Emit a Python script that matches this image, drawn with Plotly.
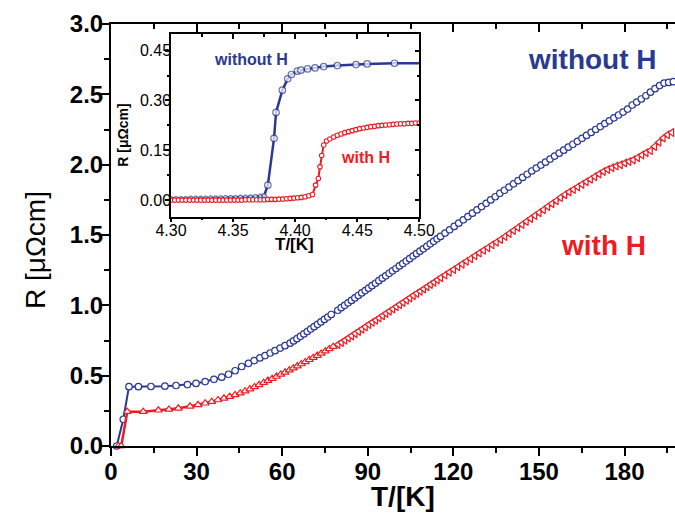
import plotly.graph_objects as go

# ---------------- data ----------------
# main panel, without H (blue circles)
T_blue = [2.0, 4.3, 6.3, 9.6, 14.0, 18.9, 22.8, 26.8, 29.8, 33.0, 36.1, 38.8, 41.2, 43.5,
          45.8, 48.2, 50.2, 52.2, 54.0, 55.8, 57.5, 59.3, 61.0, 62.8, 64.0, 65.2, 66.4, 67.6,
          68.8, 70.0, 71.2, 72.4, 73.6, 74.8, 76.0, 77.2, 79.5, 80.7, 81.9, 83.1, 84.3, 85.5,
          86.7, 87.9, 89.1, 90.3, 91.5, 92.7, 93.9, 95.1, 96.3, 97.5, 98.7, 99.9, 101.1, 102.3,
          103.5, 104.7, 105.9, 107.1, 108.3, 109.5, 110.7, 111.9, 113.1, 114.3, 115.5, 117.1,
          118.7, 120.3, 121.9, 123.5, 125.1, 126.7, 128.3, 129.9, 131.5, 133.1, 134.7, 136.3,
          137.9, 139.5, 141.1, 142.7, 144.3, 145.9, 147.5, 149.1, 150.7, 152.3, 153.9, 155.5,
          157.1, 158.7, 160.3, 161.9, 163.5, 165.1, 166.7, 168.3, 169.9, 171.5, 173.1, 174.7,
          176.3, 177.9, 179.5, 181.1, 182.7, 184.3, 185.9, 187.5, 189.1, 190.7, 192.3, 193.9,
          195.5, 197.1]
R_blue = [0.0, 0.19, 0.422, 0.422, 0.423, 0.425, 0.43, 0.437, 0.445, 0.458, 0.474, 0.489, 0.51, 0.535,
          0.565, 0.588, 0.607, 0.626, 0.643, 0.661, 0.678, 0.696, 0.713, 0.731, 0.747, 0.763, 0.78, 0.797,
          0.814, 0.831, 0.848, 0.865, 0.882, 0.9, 0.917, 0.935, 0.965, 0.983, 1.0, 1.018, 1.035, 1.053,
          1.07, 1.088, 1.105, 1.122, 1.14, 1.157, 1.175, 1.193, 1.21, 1.228, 1.245, 1.262, 1.28, 1.297,
          1.315, 1.332, 1.35, 1.367, 1.385, 1.402, 1.42, 1.437, 1.455, 1.473, 1.49, 1.514,
          1.537, 1.561, 1.584, 1.608, 1.631, 1.655, 1.678, 1.702, 1.725, 1.749, 1.772, 1.796,
          1.818, 1.841, 1.864, 1.886, 1.909, 1.932, 1.955, 1.976, 1.997, 2.018, 2.04, 2.061,
          2.082, 2.103, 2.124, 2.145, 2.166, 2.187, 2.208, 2.229, 2.25, 2.271, 2.292, 2.312,
          2.333, 2.353, 2.374, 2.395, 2.424, 2.445, 2.467, 2.49, 2.515, 2.54, 2.562, 2.58,
          2.585, 2.59]

# main panel, with H (red triangles)
T_red = [2.6, 3.6, 5.7, 11.3, 16.6, 20.3, 23.6, 27.7, 30.5, 33.0, 35.3, 37.5, 39.6, 41.6, 43.5,
         45.3, 47.0, 48.7, 50.3, 51.9, 53.5, 55.0, 56.5, 58.0, 59.5, 61.0, 62.5, 63.9, 65.3, 66.7,
         68.1, 69.5, 70.9, 72.3, 73.7, 75.1, 76.5, 77.9, 79.6, 80.8, 82.0, 83.2, 84.4, 85.6, 86.8,
         88.0, 89.2, 90.4, 91.6, 92.8, 94.0, 95.2, 96.4, 97.6, 98.8, 100.0, 101.2, 102.4, 103.6,
         104.8, 106.0, 107.2, 108.4, 109.6, 110.8, 112.0, 113.2, 114.4, 115.6, 117.1, 118.6, 120.1,
         121.6, 123.1, 124.6, 126.1, 127.6, 129.1, 130.6, 132.1, 133.6, 135.1, 136.6, 138.1, 139.6,
         141.1, 142.6, 144.1, 145.6, 147.1, 148.6, 150.1, 151.6, 153.1, 154.6, 156.1, 157.6, 159.1,
         160.6, 162.1, 163.6, 165.1, 166.6, 168.1, 169.6, 171.1, 172.6, 174.1, 175.6, 177.1, 178.6,
         180.1, 181.6, 183.1, 184.6, 186.1, 187.6, 189.1, 190.6, 192.1, 193.6, 195.1, 196.6]
R_red = [0.0, 0.0, 0.244, 0.244, 0.254, 0.26, 0.268, 0.282, 0.293, 0.304, 0.315, 0.327, 0.339, 0.351, 0.363,
         0.376, 0.39, 0.405, 0.42, 0.435, 0.45, 0.465, 0.479, 0.494, 0.509, 0.524, 0.539, 0.553, 0.568, 0.583,
         0.598, 0.613, 0.628, 0.643, 0.658, 0.674, 0.69, 0.706, 0.722, 0.736, 0.752, 0.768, 0.783, 0.799, 0.815,
         0.831, 0.847, 0.863, 0.879, 0.894, 0.91, 0.926, 0.942, 0.958, 0.974, 0.99, 1.005, 1.021, 1.037,
         1.053, 1.069, 1.085, 1.1, 1.116, 1.132, 1.148, 1.164, 1.18, 1.196, 1.215, 1.235, 1.254,
         1.274, 1.293, 1.313, 1.332, 1.352, 1.372, 1.391, 1.41, 1.43, 1.449, 1.468, 1.489, 1.51,
         1.532, 1.553, 1.574, 1.596, 1.617, 1.638, 1.659, 1.68, 1.702, 1.723, 1.744, 1.766, 1.787,
         1.806, 1.824, 1.842, 1.86, 1.879, 1.897, 1.915, 1.934, 1.952, 1.966, 1.978, 1.99, 2.0,
         2.012, 2.023, 2.034, 2.05, 2.068, 2.085, 2.1, 2.13, 2.16, 2.19, 2.212, 2.228]

# inset, without H
Ti_blue = [4.300, 4.304, 4.308, 4.312, 4.316, 4.320, 4.324, 4.328, 4.332, 4.336, 4.340, 4.344,
           4.348, 4.352, 4.356, 4.360, 4.364, 4.368, 4.372, 4.375, 4.378, 4.383, 4.3846, 4.3897,
           4.394, 4.397, 4.4018, 4.4047, 4.410, 4.416, 4.423, 4.434, 4.449, 4.458, 4.480, 4.505]
Ri_blue = [0.004, 0.004, 0.004, 0.004, 0.005, 0.005, 0.005, 0.005, 0.006, 0.006, 0.006, 0.007,
           0.007, 0.007, 0.008, 0.008, 0.009, 0.010, 0.011, 0.013, 0.045, 0.186, 0.264, 0.331,
           0.365, 0.378, 0.388, 0.391, 0.395, 0.398, 0.402, 0.405, 0.408, 0.410, 0.412, 0.412]

# inset, with H
Ti_red = [4.300, 4.303, 4.306, 4.309, 4.312, 4.315, 4.318, 4.321, 4.324, 4.327, 4.330, 4.333,
          4.336, 4.339, 4.342, 4.345, 4.348, 4.351, 4.354, 4.357, 4.360, 4.363, 4.366, 4.369,
          4.372, 4.375, 4.378, 4.381, 4.384, 4.387, 4.390, 4.393, 4.396, 4.399, 4.402, 4.405,
          4.408, 4.411, 4.414, 4.4165, 4.4187, 4.4200, 4.4214, 4.4230, 4.4253, 4.428, 4.431,
          4.434, 4.437, 4.440, 4.443, 4.446, 4.449, 4.452, 4.455, 4.458, 4.461, 4.464, 4.467,
          4.470, 4.473, 4.476, 4.479, 4.482, 4.485, 4.488, 4.491, 4.494, 4.497, 4.500]
Ri_red = [0.000, 0.000, 0.000, 0.000, 0.000, 0.000, 0.000, 0.000, 0.000, 0.000, 0.000, 0.000,
          0.000, 0.000, 0.000, 0.000, 0.000, 0.000, 0.000, 0.000, 0.001, 0.001, 0.001, 0.001,
          0.001, 0.001, 0.002, 0.002, 0.002, 0.003, 0.003, 0.004, 0.005, 0.006, 0.007, 0.008,
          0.010, 0.013, 0.017, 0.045, 0.065, 0.100, 0.134, 0.166, 0.178, 0.184, 0.190,
          0.195, 0.199, 0.203, 0.206, 0.209, 0.212, 0.215, 0.217, 0.219, 0.221, 0.222, 0.224,
          0.225, 0.226, 0.227, 0.228, 0.229, 0.230, 0.230, 0.231, 0.231, 0.232, 0.232]

BLUE = "#2b3990"
RED = "#ed1c24"
FONT = "Liberation Sans, Arial, sans-serif"

red_symbols = ["triangle-up" if t < 78.5 else "triangle-left" for t in T_red]
blue_inset_sizes = [4.5 if r < 0.02 else 6.5 for r in Ri_blue]

fig = go.Figure()

fig.add_trace(go.Scatter(
    x=T_blue, y=R_blue, mode="lines+markers", cliponaxis=False,
    line=dict(color=BLUE, width=2),
    marker=dict(symbol="circle", size=6.5, color="white", line=dict(color=BLUE, width=1.2)),
    showlegend=False))
fig.add_trace(go.Scatter(
    x=T_red, y=R_red, mode="lines+markers", cliponaxis=False,
    line=dict(color=RED, width=2.5),
    marker=dict(symbol=red_symbols, size=7, color="white", line=dict(color=RED, width=1.2)),
    showlegend=False))

fig.add_trace(go.Scatter(
    x=Ti_blue, y=Ri_blue, xaxis="x2", yaxis="y2", mode="lines+markers",
    line=dict(color=BLUE, width=2.5),
    marker=dict(symbol="circle", size=blue_inset_sizes, color="white", line=dict(color=BLUE, width=1.2)),
    showlegend=False))
fig.add_trace(go.Scatter(
    x=Ti_red, y=Ri_red, xaxis="x2", yaxis="y2", mode="lines+markers",
    line=dict(color=RED, width=2),
    marker=dict(symbol="circle", size=4.5, color="white", line=dict(color=RED, width=1.1)),
    showlegend=False))

# empty traces to register mirrored frame axes
fig.add_trace(go.Scatter(x=[], y=[], xaxis="x3", yaxis="y", showlegend=False, hoverinfo="skip"))
fig.add_trace(go.Scatter(x=[], y=[], xaxis="x4", yaxis="y4", showlegend=False, hoverinfo="skip"))

main_tick = dict(family=FONT, size=24, color="black", weight="bold")
inset_tick = dict(family=FONT, size=16, color="black")

XMAX = 197.7

common = dict(showline=True, linecolor="black", showgrid=False, zeroline=False,
              tickcolor="black", automargin=False)

fig.update_layout(
    template="none",
    width=675, height=522, autosize=False,
    margin=dict(l=111, r=0, t=24, b=76, pad=0),
    paper_bgcolor="white", plot_bgcolor="white",
    font=dict(family=FONT, color="black"),
    showlegend=False,
    xaxis=dict(domain=[0, 1], range=[0, XMAX], anchor="y", linewidth=2,
               ticks="outside", ticklen=8, tickwidth=2,
               tick0=0, dtick=30, tickfont=main_tick, ticklabelstandoff=-5,
               minor=dict(dtick=15, ticks="outside", ticklen=5, tickwidth=2, tickcolor="black"),
               **common),
    yaxis=dict(domain=[0, 1], range=[0, 3.0], anchor="x", linewidth=2,
               ticks="outside", ticklen=8, tickwidth=2,
               tick0=0, dtick=0.5, tickformat=".1f", tickfont=main_tick, ticklabelstandoff=-7,
               minor=dict(dtick=0.25, ticks="outside", ticklen=5, tickwidth=2, tickcolor="black"),
               **common),
    xaxis3=dict(overlaying="x", side="top", anchor="y", range=[0, XMAX], linewidth=2,
                ticks="inside", ticklen=8, tickwidth=2,
                tick0=0, dtick=30, showticklabels=False,
                minor=dict(dtick=15, ticks="inside", ticklen=5, tickwidth=2, tickcolor="black"),
                **common),
    xaxis2=dict(domain=[0.1064, 0.5466], range=[4.30, 4.50], anchor="y2", linewidth=1.5,
                ticks="outside", ticklen=4, tickwidth=1.5,
                tick0=4.30, dtick=0.05, tickformat=".2f", tickfont=inset_tick, ticklabelstandoff=-6,
                minor=dict(dtick=0.025, ticks="outside", ticklen=2, tickwidth=1.5, tickcolor="black"),
                **common),
    yaxis2=dict(domain=[0.5434, 0.9763], range=[-0.05, 0.50], anchor="x2", linewidth=1.5,
                ticks="outside", ticklen=4, tickwidth=1.5,
                tick0=0, dtick=0.15, tickformat=".2f", tickfont=inset_tick, ticklabelstandoff=-9,
                minor=dict(dtick=0.075, ticks="outside", ticklen=2, tickwidth=1.5, tickcolor="black"),
                **common),
    xaxis4=dict(overlaying="x2", side="top", anchor="y2", range=[4.30, 4.50], linewidth=1.5,
                ticks="inside", ticklen=5, tickwidth=1.5,
                tick0=4.30, dtick=0.05, showticklabels=False,
                minor=dict(dtick=0.025, ticks="inside", ticklen=3, tickwidth=1.5, tickcolor="black"),
                **common),
    yaxis4=dict(overlaying="y2", side="right", anchor="x2", range=[-0.05, 0.50], linewidth=1.5,
                ticks="inside", ticklen=5, tickwidth=1.5,
                tick0=0, dtick=0.15, showticklabels=False,
                minor=dict(dtick=0.075, ticks="inside", ticklen=3, tickwidth=1.5, tickcolor="black"),
                **common),
)

ann = [
    dict(text="R [μΩcm]", x=-0.133, y=0.4645, textangle=-90,
         font=dict(family=FONT, size=28, color="black")),
    dict(text="<b>T/[K]</b>", x=0.5177, y=-0.1185,
         font=dict(family=FONT, size=28, color="black")),
    dict(text="<b>without H</b>", x=0.8546, y=0.917,
         font=dict(family=FONT, size=28, color=BLUE)),
    dict(text="<b>with H</b>", x=0.874, y=0.476,
         font=dict(family=FONT, size=28, color=RED)),
    dict(text="<b>without H</b>", x=0.249, y=0.917,
         font=dict(family=FONT, size=16, color=BLUE)),
    dict(text="<b>with H</b>", x=0.4509, y=0.6837,
         font=dict(family=FONT, size=16, color=RED)),
    dict(text="<b>T/[K]</b>", x=0.3262, y=0.478,
         font=dict(family=FONT, size=17, color="black")),
    dict(text="<b>R [μΩcm]</b>", x=0.0207, y=0.737, textangle=-90,
         font=dict(family=FONT, size=14, color="black")),
]
for a in ann:
    a.update(xref="paper", yref="paper", showarrow=False, xanchor="center", yanchor="middle")
fig.update_layout(annotations=ann)

# remove the browser's default 8px page margin so the 675x522 figure fills the window
fig.write_html(
    "out.html",
    config={"displayModeBar": False, "responsive": False},
    post_script="document.documentElement.style.overflow='hidden';"
                "document.body.style.margin='0';document.body.style.overflow='hidden';",
)
